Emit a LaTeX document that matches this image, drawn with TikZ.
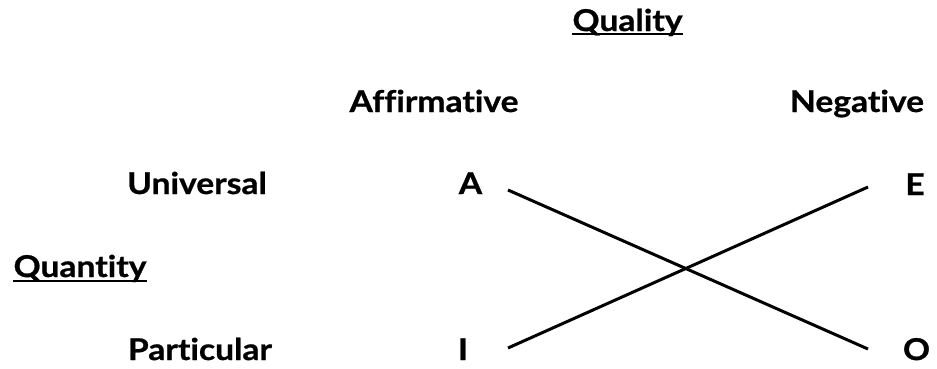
\documentclass[tikz,border=0pt]{standalone}
\usepackage{fontspec}
\setmainfont{Lato}[Ligatures=NoCommon, FakeStretch=1.12, BoldFeatures={FakeBold=0.8}]
\usetikzlibrary{positioning}
\tikzset{
  every node/.style={font=\bfseries\fontsize{30}{34}\selectfont, inner sep=0pt},
  term/.style={anchor=base},
  heading/.style={anchor=base},
  letter/.style={anchor=base},
  cross/.style={draw=black, line width=3pt},
  rule/.style={draw=black, line width=2.4pt}
}
\begin{document}
\begin{tikzpicture}[x=1pt,y=-1pt]
  \useasboundingbox (0,0) rectangle (937,368);

  % Column and row headings.
  \node[heading] (quality) at (627.5,31) {Quality};
  \node[term] (affirm) at (434,112) {Affirmative};
  \node[term] (negat) at (857,112) {Negative};
  \node[term] (univ) at (197,194) {Universal};
  \node[heading] (quantity) at (80,277) {Quantity};
  \node[term] (partic) at (200,360) {Particular};
  \draw[rule] ([yshift=-3pt]quality.base west) -- ([yshift=-3pt]quality.base east);
  \draw[rule] ([yshift=-4pt]quantity.base west) -- ([yshift=-4pt]quantity.base east);

  % The four propositions.
  \node[letter] (A) at (470.5,194) {A};
  \node[letter] (E) at (915,195) {E};
  \node[letter] (I) at (463,360) {I};
  \node[letter] (O) at (916.5,360) {O};

  % Contradictories.
  \coordinate (a-tip) at (508,190);
  \coordinate (o-tip) at (868,349);
  \coordinate (i-tip) at (508,348);
  \coordinate (e-tip) at (868,187);
  \draw[cross] (a-tip) -- (o-tip);
  \draw[cross] (i-tip) -- (e-tip);
\end{tikzpicture}
\end{document}
